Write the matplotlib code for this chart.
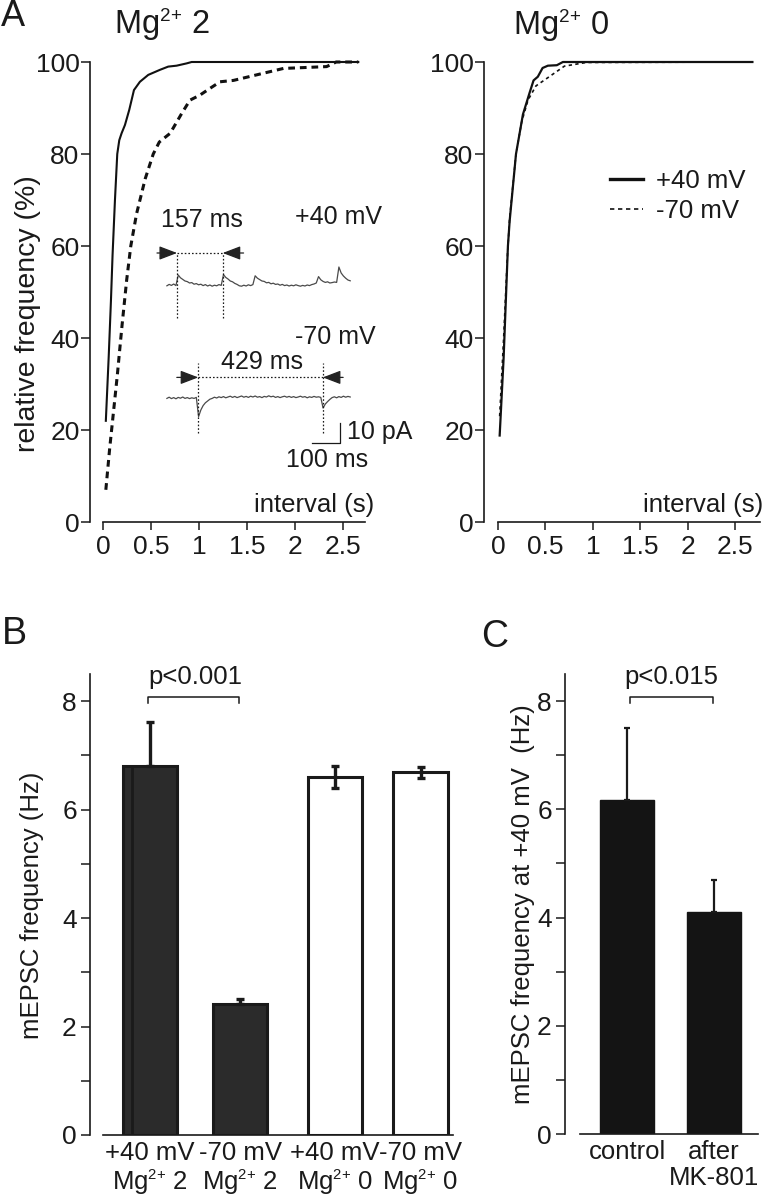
import matplotlib
matplotlib.use("Agg")
import numpy as np
import matplotlib.pyplot as plt
import matplotlib._mathtext as mathtext_core
from matplotlib.lines import Line2D

plt.rcParams['font.family'] = 'Liberation Sans'
plt.rcParams['mathtext.fontset'] = 'custom'
plt.rcParams['mathtext.rm'] = 'Liberation Sans'
plt.rcParams['mathtext.it'] = 'Liberation Sans:italic'
plt.rcParams['mathtext.bf'] = 'Liberation Sans:bold'
# smaller superscripts, as in the original figure
mathtext_core.SHRINK_FACTOR = 0.58
MG = 'Mg$^{2{+}}$'

# ---- data: cumulative interval distributions (A) ----
mg2_pos_x = [0.03, 0.06, 0.083, 0.10, 0.125, 0.149, 0.17, 0.194, 0.229, 0.274,
             0.323, 0.385, 0.472, 0.594, 0.68, 0.767, 0.872, 0.924, 2.66]
mg2_pos_y = [22, 36, 48, 58, 70, 80, 83, 84.5, 86.3, 89.6,
             93.9, 95.7, 97.2, 98.3, 99.0, 99.2, 99.7, 100, 100]
mg2_neg_x = [0.03, 0.07, 0.108, 0.15, 0.177, 0.2, 0.247, 0.29, 0.35, 0.44, 0.524, 0.587,
             0.70, 0.82, 0.906, 1.01, 1.11, 1.22, 1.36, 1.60, 1.88, 2.33, 2.43, 2.66]
mg2_neg_y = [7, 16, 23.6, 32, 38, 43, 52.6, 60, 67, 74.6, 80, 82.6,
             84.5, 88.8, 91.7, 92.8, 94.2, 95.7, 96, 97.2, 98.6, 99, 100, 100]
mg0_pos_x = [0.018, 0.06, 0.105, 0.123, 0.19, 0.263, 0.333, 0.375, 0.42, 0.47, 0.526, 0.62, 0.684, 2.68]
mg0_pos_y = [18.8, 35.8, 60, 65.4, 80, 88.6, 93.3, 96, 96.8, 98.7, 99.2, 99.3, 100, 100]
mg0_neg_x = [0.018, 0.06, 0.10, 0.123, 0.19, 0.25, 0.316, 0.40, 0.54, 0.70, 0.93, 2.68]
mg0_neg_y = [23, 40, 58, 66, 80, 87, 91.7, 94.8, 96.8, 99.1, 99.9, 100]
x_ticks = [0, 0.5, 1, 1.5, 2, 2.5]
x_ticklabels = ['0', '0.5', '1', '1.5', '2', '2.5']

# example traces (pA, sampled every 8 ms)
dt_ms = 8
trace40 = [-0.4, 0.3, -0.2, 0.5, -0.3, 5.0, 3.6, 2.8, 2.0, 1.7,
           1.0, 1.2, 0.4, 0.7, 0.1, 0.4, -0.3, 0.2, -0.5, 0.0,
           -0.6, -0.1, -0.4, 0.2, -0.2, 5.2, 3.8, 3.0, 2.0, 1.6,
           0.8, 0.3, -0.4, -0.6, -0.1, -0.5, 0.1, -0.3, 0.2, 4.6,
           3.4, 2.7, 2.0, 1.8, 1.1, 1.3, 0.6, 0.9, 0.3, 0.5,
           -0.1, 0.3, -0.3, 0.0, -0.5, -0.1, -0.4, 0.1, -0.3, -0.6,
           -0.2, -0.5, 0.0, -0.3, 0.2, 0.5, 1.0, 4.2, 2.6, 1.8,
           1.3, 1.6, 1.0, 1.2, 1.5, 1.3, 9.0, 6.0, 4.5, 3.4,
           2.5, 2.1]
trace70 = [-0.2, 0.4, -0.3, 0.2, -0.4, 0.3, -0.1, 0.5, -0.2, 0.2,
           -0.3, 0.1, -0.2, 0.3, -9.3, -6.0, -3.8, -2.4, -1.5, -0.6,
           -0.2, 0.4, 0.0, 0.6, 0.2, 0.7, 0.1, 0.5, 0.9, 0.3,
           0.8, 0.2, 0.6, 1.0, 0.4, 0.8, 0.3, 0.9, 0.5, 1.0,
           0.4, 0.7, 0.2, 0.8, 0.5, 1.1, 0.6, 0.9, 0.3, 0.7,
           0.2, 0.6, 0.9, 0.4, 0.8, 0.3, 0.7, 0.2, 0.5, 0.9,
           0.4, 0.7, 0.1, 0.6, 0.3, 0.8, 0.4, 0.6, 0.3, -5.0,
           -3.0, -1.8, -0.7, 0.2, 0.6, 0.1, 0.7, 0.3, 0.9, 0.4,
           0.8, 0.5]
events40 = [36, 197]
events70 = [111, 551]
interval40 = '157 ms'
interval70 = '429 ms'

# ---- data: bar charts (B, C) ----
b_labels = ['+40 mV\n' + MG + ' 2', '-70 mV\n' + MG + ' 2',
            '+40 mV\n' + MG + ' 0', '-70 mV\n' + MG + ' 0']
b_means = [6.81, 2.42, 6.60, 6.69]
b_err_lo = [0, 0, 0.2, 0.1]
b_err_hi = [0.8, 0.09, 0.2, 0.1]
c_labels = ['control', 'after\nMK-801']
c_means = [6.17, 4.10]
c_err = [1.33, 0.60]

INK = '#1a1a1a'
W, H = 766, 1199
fig = plt.figure(figsize=(W / 100, H / 100), dpi=100)


def axes_px(left, top, right, bottom):
    return fig.add_axes([left / W, 1 - bottom / H, (right - left) / W, (bottom - top) / H])


def ftext(x, y, s, **kw):
    kw.setdefault('color', INK)
    return fig.text(x / W, 1 - y / H, s, **kw)


def cdf_axes(ax, xmin, xmax):
    ax.set_xlim(xmin, xmax)
    ax.set_ylim(0, 100)
    for s in ['top', 'right']:
        ax.spines[s].set_visible(False)
    ax.spines['left'].set_bounds(0, 100)
    ax.spines['bottom'].set_bounds(0, xmax)
    for s in ['left', 'bottom']:
        ax.spines[s].set_linewidth(1.2)
        ax.spines[s].set_color(INK)
    ax.set_xticks(x_ticks)
    ax.set_xticklabels(x_ticklabels)
    ax.set_yticks(range(0, 101, 20))
    ax.tick_params(axis='both', direction='out', width=1.1, color=INK, labelcolor=INK, labelsize=19)
    ax.tick_params(axis='x', length=6, pad=3)
    ax.tick_params(axis='y', length=6.5, pad=1)
    ax.patch.set_visible(False)


# ---- A left: Mg 2 ----
axA1 = axes_px(90, 62, 365, 522)
cdf_axes(axA1, -0.135, 2.73)
axA1.plot(mg2_pos_x, mg2_pos_y, color='#111111', lw=1.5, clip_on=False)
axA1.plot(mg2_neg_x, mg2_neg_y, color='#111111', lw=2.2, ls=(0, (2.2, 1.6)), clip_on=False)

# ---- A right: Mg 0 ----
axA2 = axes_px(484, 62, 760, 522)
cdf_axes(axA2, -0.147, 2.76)
axA2.plot(mg0_neg_x, mg0_neg_y, color='#111111', lw=1.2, ls=(0, (2, 2)), clip_on=False)
axA2.plot(mg0_pos_x, mg0_pos_y, color='#111111', lw=1.6, clip_on=False)
handles = [Line2D([], [], color='#111111', lw=2.4),
           Line2D([], [], color='#111111', lw=1.2, ls=(0, (2.6, 2.2)))]
leg = axA2.legend(handles, ['+40 mV', '-70 mV'], loc='center left',
                  bbox_to_anchor=(610 / W, 1 - 196 / H), bbox_transform=fig.transFigure,
                  frameon=False, fontsize=18.5, handlelength=1.3, handletextpad=0.5,
                  labelspacing=0.25, borderpad=0, borderaxespad=0)
for t in leg.get_texts():
    t.set_color(INK)

# ---- inset example traces ----
axIn = axes_px(157, 200, 357, 470)
axIn.set_xlim(-35, 672)
axIn.set_ylim(-36, 99)
axIn.axis('off')
off40 = 56.5
t40 = np.arange(len(trace40)) * dt_ms
t70 = np.arange(len(trace70)) * dt_ms
axIn.plot(t40, np.array(trace40) + off40, color='#4a4a4a', lw=0.9)
axIn.plot(t70, trace70, color='#4a4a4a', lw=0.9)
dot = (0, (1.3, 1.6))
axIn.vlines(events40, off40 - 16.5, off40 + 16, colors=INK, lw=0.9, linestyles=[dot])
axIn.hlines(off40 + 16, events40[0], events40[1], colors=INK, lw=0.9, linestyles=[dot])
axIn.vlines(events70, -17.5, 17.5, colors=INK, lw=0.9, linestyles=[dot])
axIn.hlines(10.3, events70[0], events70[1], colors=INK, lw=0.9, linestyles=[dot])
arrow = dict(arrowstyle='-|>,head_length=1.1,head_width=0.42', color='#222222', lw=0.9,
             shrinkA=0, shrinkB=0, mutation_scale=10)
axIn.annotate('', xy=(events40[0], off40 + 16), xytext=(events40[0] - 71, off40 + 16), arrowprops=arrow)
axIn.annotate('', xy=(events40[1], off40 + 16), xytext=(events40[1] + 74, off40 + 16), arrowprops=arrow)
axIn.annotate('', xy=(events70[0], 10.3), xytext=(events70[0] - 76, 10.3), arrowprops=arrow)
axIn.annotate('', xy=(events70[1], 10.3), xytext=(events70[1] + 72, 10.3), arrowprops=arrow)
axIn.text(np.mean(events40) + 7, off40 + 32.5, interval40, ha='center', va='center', fontsize=18, color=INK)
axIn.text(np.mean(events70) + 4, 18.2, interval70, ha='center', va='center', fontsize=18, color=INK)
axIn.text(608, 90.5, '+40 mV', ha='center', va='center', fontsize=18, color=INK)
axIn.text(594, 30.6, '-70 mV', ha='center', va='center', fontsize=18, color=INK)
# scale bar 100 ms / 10 pA
axIn.plot([512, 612, 612], [-22.5, -22.5, -12.5], color=INK, lw=0.9)
axIn.text(635, -16.9, '10 pA', ha='left', va='center', fontsize=18, color=INK)
axIn.text(565, -31, '100 ms', ha='center', va='center', fontsize=18, color=INK)

# ---- A text ----
ftext(13, 17, 'A', ha='center', va='center', fontsize=26)
ftext(162, 25, MG + ' 2', ha='center', va='center', fontsize=23.5)
ftext(561, 26, MG + ' 0', ha='center', va='center', fontsize=23.5)
ftext(374, 505, 'interval (s)', ha='right', va='center', fontsize=18.5)
ftext(763, 505, 'interval (s)', ha='right', va='center', fontsize=18.5)
ftext(28, 314, 'relative frequency (%)', rotation=90, ha='center', va='center', fontsize=20.5)


def bar_axes(ax, xmin, xstart, xmax):
    ax.set_xlim(xmin, xmax)
    ax.set_ylim(0, 8.5)
    for s in ['top', 'right']:
        ax.spines[s].set_visible(False)
    ax.spines['left'].set_bounds(0, 8.5)
    ax.spines['bottom'].set_bounds(xstart, xmax)
    for s in ['left', 'bottom']:
        ax.spines[s].set_linewidth(1.2)
        ax.spines[s].set_color(INK)
    ax.set_yticks(range(0, 9))
    ax.set_yticklabels([str(v) if v % 2 == 0 else '' for v in range(0, 9)])
    ax.tick_params(axis='y', direction='out', length=6.5, width=1.1, color=INK,
                   labelcolor=INK, labelsize=19, pad=3)
    ax.tick_params(axis='x', length=0, pad=4, labelcolor=INK, labelsize=18.5)
    ax.patch.set_visible(False)


# ---- B ----
axB = axes_px(90, 674, 453, 1135)
bar_axes(axB, -0.665, -0.52, 3.36)
xb = np.array([0, 1, 2.05, 3])
axB.bar(xb, b_means, width=0.6, color=['#2b2b2b', '#2b2b2b', 'white', 'white'],
        edgecolor=INK, linewidth=2.2, zorder=2)
axB.bar(xb[0] + 0.05, b_means[0], width=0.5, facecolor='none', edgecolor=INK, linewidth=2.0, zorder=2)
axB.errorbar(xb, b_means, yerr=[b_err_lo, b_err_hi], fmt='none', ecolor=INK,
             elinewidth=2.4, capsize=3, capthick=2.4, zorder=3)
axB.set_xticks(xb)
axB.set_xticklabels(b_labels, linespacing=1.15)
axB.plot([xb[0] - 0.02, xb[0] - 0.02, xb[1] - 0.01, xb[1] - 0.01], [7.96, 8.07, 8.07, 7.96],
         color=INK, lw=1.1, clip_on=False)
axB.text((xb[0] + xb[1]) / 2, 8.44, 'p<0.001', ha='center', va='center', fontsize=18.5, color=INK)
ftext(14.5, 634.5, 'B', ha='center', va='center', fontsize=27)
ftext(32, 905, 'mEPSC frequency (Hz)', rotation=90, ha='center', va='center', fontsize=18.5)

# ---- C ----
axC = axes_px(565, 674, 758, 1134)
bar_axes(axC, -0.72, -0.55, 1.51)
xc = np.arange(len(c_means))
axC.bar(xc, c_means, width=0.62, color='#141414', edgecolor='#141414', linewidth=1, zorder=2)
axC.errorbar(xc, c_means, yerr=[[0] * len(c_err), c_err], fmt='none', ecolor=INK,
             elinewidth=1.6, capsize=2, capthick=1.6, zorder=3)
axC.set_xticks(xc)
axC.set_xticklabels(c_labels, linespacing=1.15)
axC.plot([xc[0] + 0.03, xc[0] + 0.03, xc[1] - 0.01, xc[1] - 0.01], [7.96, 8.07, 8.07, 7.96],
         color=INK, lw=1.1, clip_on=False)
axC.text((xc[0] + xc[1]) / 2 + 0.01, 8.44, 'p<0.015', ha='center', va='center', fontsize=18.5, color=INK)
ftext(495, 637, 'C', ha='center', va='center', fontsize=27)
ftext(523, 904, 'mEPSC frequency at +40 mV  (Hz)', rotation=90, ha='center', va='center', fontsize=18.5)

fig.savefig('out.png', dpi=100)
